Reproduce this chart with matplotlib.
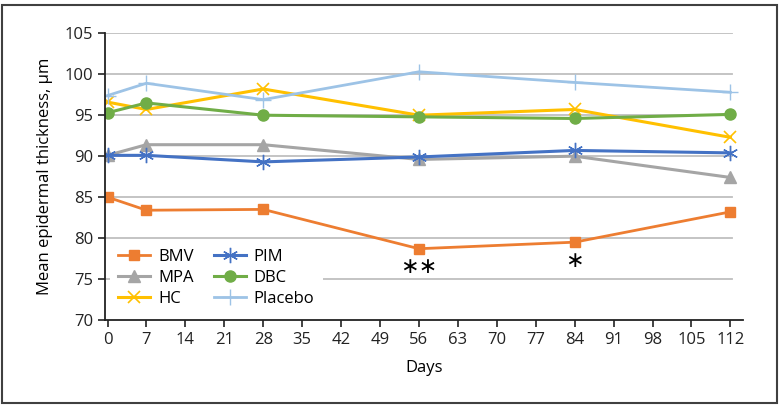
import matplotlib.pyplot as plt
from matplotlib.patches import Rectangle

plt.rcParams['font.family'] = ['Open Sans', 'DejaVu Sans']

days = [0, 7, 28, 56, 84, 112]
bmv = [85.0, 83.4, 83.5, 78.7, 79.5, 83.2]
mpa = [90.1, 91.4, 91.4, 89.6, 90.0, 87.4]
hc = [96.6, 95.7, 98.2, 95.0, 95.7, 92.3]
pim = [90.1, 90.1, 89.3, 89.9, 90.7, 90.4]
dbc = [95.3, 96.5, 95.0, 94.8, 94.6, 95.1]
placebo = [97.4, 98.9, 96.9, 100.3, 99.0, 97.8]

x_ticks = list(range(0, 113, 7))
y_ticks = [70, 75, 80, 85, 90, 95, 100, 105]

# significance marks under BMV
sig_days = [56, 84]
sig_labels = ['∗∗', '∗']

fig = plt.figure(figsize=(7.79, 4.05), dpi=100)
ax = fig.add_axes([0.1348, 0.2099, 0.954 - 0.1348, 0.9178 - 0.2099])

# grid lines stop a little before the end of the x axis, like the original
for y in y_ticks[1:]:
    ax.axhline(y, xmin=0, xmax=0.983, color='#BFBFBF', lw=1.3, zorder=0)

ax.plot(days, bmv, color='#ED7D31', lw=2, marker='s', ms=7, label='BMV')
ax.plot(days, mpa, color='#A5A5A5', lw=2.2, marker='^', ms=8, label='MPA')
ax.plot(days, hc, color='#FFC000', lw=2.2, marker='x', ms=9, mew=1.2, label='HC')
ax.plot(days, pim, color='#4472C4', lw=2.2, marker=(6, 2, 0), ms=11, mew=1.0, label='PIM')
ax.plot(days, dbc, color='#70AD47', lw=2.2, marker='o', ms=8, label='DBC')
ax.plot(days, placebo, color='#9DC3E6', lw=2, marker='+', ms=11, mew=1.0, label='Placebo')

for d, s in zip(sig_days, sig_labels):
    ax.annotate(s, (d, bmv[days.index(d)]), xytext=(0, -6), textcoords='offset points',
                ha='center', va='top', fontsize=16, family=['DejaVu Sans'])

ax.set_xlim(-0.45, 114.3)
ax.set_ylim(70, 105)
ax.set_xticks(x_ticks)
ax.set_yticks(y_ticks)
ax.tick_params(labelsize=12, length=5, width=1.2, colors='#222222')
for s in ['top', 'right']:
    ax.spines[s].set_visible(False)
for s in ['left', 'bottom']:
    ax.spines[s].set_color('#222222')
    ax.spines[s].set_linewidth(1.3)

ax.set_xlabel('Days', fontsize=12, labelpad=9)
ax.set_ylabel('Mean epidermal thickness, µm', fontsize=12, labelpad=8)

leg = ax.legend(ncol=2, loc='lower left', bbox_to_anchor=(0.0, 0.0), fontsize=12,
                frameon=True, handlelength=1.9, handletextpad=0.5, columnspacing=1.2,
                labelspacing=0.28, borderpad=0.5, borderaxespad=0.3)
leg.get_frame().set_facecolor('white')
leg.get_frame().set_edgecolor('none')
leg.get_frame().set_alpha(1)

fig.patches.append(Rectangle((0.003, 0.006), 0.994, 0.982, transform=fig.transFigure,
                             fill=False, edgecolor='#404040', lw=1.5))

fig.savefig('out.png', dpi=100)
